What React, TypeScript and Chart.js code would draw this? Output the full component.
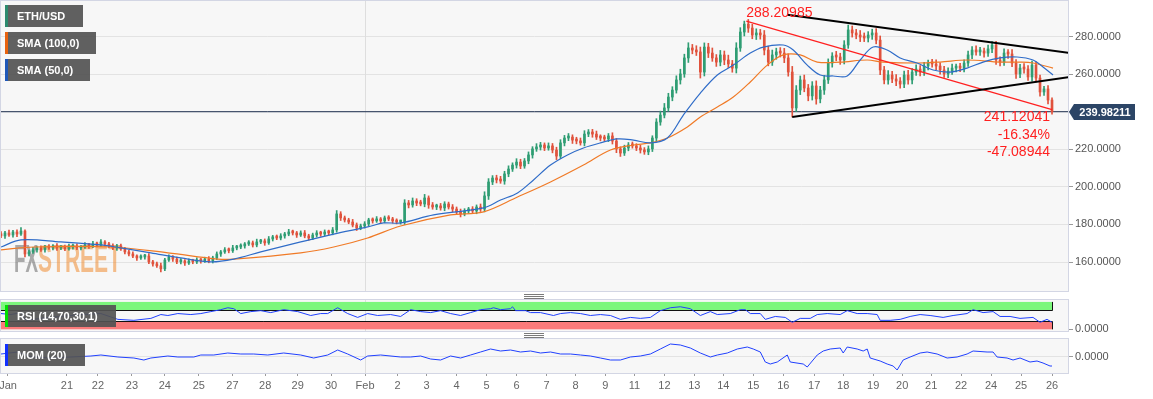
import React, { useEffect, useRef } from 'react';
import { Chart, registerables } from 'chart.js';

Chart.register(...registerables);

const FONT = '"Liberation Sans", Arial, Helvetica, sans-serif';

// ---------- DATA ----------
const firstOpen = 175.0;
const closes = [
  173.9,175.5,174.4,176.0,174.9,176.5,164.3,165.4,166.5,167.5,
  166.5,168.0,167.5,168.6,167.5,168.0,167.0,168.0,168.6,167.5,
  168.0,169.1,168.6,169.6,169.1,170.7,169.6,168.6,167.5,168.6,
  167.0,165.4,164.3,163.2,162.2,162.7,163.2,160.1,159.0,158.0,
  156.4,161.1,162.7,161.6,160.1,160.6,159.5,160.6,160.1,161.1,
  160.6,161.6,160.6,162.2,164.3,165.4,166.5,166.0,167.5,168.0,
  168.6,169.6,170.2,169.1,170.7,171.2,170.2,172.3,173.4,172.8,
  173.9,174.9,176.0,175.5,174.4,175.5,173.9,172.8,174.4,175.5,
  174.9,176.0,175.5,177.1,185.6,183.5,182.4,181.3,179.7,178.1,
  179.2,180.3,182.4,181.9,182.9,181.9,183.5,182.9,181.9,181.3,
  181.3,191.4,190.4,192.5,191.4,190.9,194.1,190.4,189.3,189.8,
  188.8,190.9,189.3,188.2,186.7,185.6,187.2,188.2,187.2,189.3,
  188.2,195.2,202.6,204.7,203.7,203.1,206.9,209.5,211.6,213.2,
  211.1,213.8,217.0,220.2,221.2,222.3,220.7,221.8,219.6,216.4,
  223.4,226.0,226.5,224.9,224.4,223.4,228.1,229.2,228.1,226.5,
  226.0,225.5,227.1,224.4,220.2,218.0,220.7,222.3,221.8,220.7,
  219.6,218.6,220.2,226.0,234.5,238.2,242.0,247.8,251.5,256.9,
  260.1,268.6,273.9,272.8,271.8,261.1,274.4,271.2,268.6,266.4,
  270.2,267.5,265.4,263.2,273.9,282.4,286.6,284.5,280.8,281.9,
  280.8,272.8,266.4,270.2,271.8,271.2,268.6,261.1,242.0,251.5,
  256.9,252.6,248.4,253.7,246.8,251.5,256.9,265.9,269.6,269.1,
  267.5,275.5,283.5,281.9,280.8,279.7,279.2,280.8,281.9,278.1,
  262.2,256.9,259.5,257.4,256.3,254.7,259.5,256.9,261.1,262.7,
  261.1,264.3,265.9,265.4,264.3,262.2,260.1,261.6,263.2,263.8,
  263.2,265.9,270.2,272.8,271.8,272.3,271.2,273.4,275.5,267.5,
  266.4,271.2,270.7,265.9,260.1,263.2,262.7,258.5,264.8,257.9,
  250.5,252.1,246.2,239.98211,
];

// upper / lower shadow lengths of each candle (price units)
const wickUp = [
  1.2,0.8,1.5,0.9,1.1,1.8,0.7,1.0,1.4,0.8,
  1.1,0.9,1.3,0.7,1.2,0.8,1.0,1.6,0.9,1.1,
  0.8,1.2,0.9,1.4,1.0,1.3,0.7,0.9,1.1,0.8,
  1.0,0.9,0.8,1.2,0.7,1.1,0.9,1.3,0.8,1.0,
  1.5,0.9,1.2,0.8,1.0,1.3,0.7,1.1,0.9,1.2,
  0.8,1.0,1.3,0.9,1.1,0.8,1.2,1.0,1.4,0.9,
  1.1,0.8,1.2,1.0,1.5,0.9,1.1,1.3,0.8,1.0,
  1.2,0.9,1.4,1.0,0.8,1.1,1.3,0.9,1.0,1.2,
  0.9,1.1,1.0,1.3,1.8,1.2,1.0,0.9,1.4,1.1,
  1.0,1.2,0.9,1.1,1.3,0.8,1.0,1.2,0.9,1.1,
  1.0,1.8,1.4,1.6,1.2,1.5,1.9,1.1,1.3,1.0,
  1.4,1.2,1.0,1.3,1.1,1.5,1.2,0.9,1.3,1.1,
  1.6,2.2,1.8,1.3,1.5,1.9,1.4,1.7,1.2,1.8,
  1.5,1.3,1.6,1.2,1.8,1.4,1.1,1.6,1.3,1.5,
  1.7,1.4,1.9,1.2,1.5,1.6,1.8,1.3,1.4,1.6,
  1.2,1.5,1.3,1.7,1.4,1.1,1.5,1.3,1.6,1.2,
  1.4,1.3,1.6,1.2,1.8,2.1,2.4,2.0,1.8,2.2,
  2.5,2.0,2.8,1.9,2.3,2.6,2.2,2.0,2.7,1.8,
  2.4,2.1,2.6,1.9,2.8,2.3,1.6,2.5,2.0,2.2,
  1.9,2.4,2.1,2.6,2.0,2.3,2.5,2.2,3.0,2.4,
  2.1,2.6,1.9,2.3,2.7,2.0,2.4,2.2,1.8,2.5,
  2.0,2.3,2.6,2.1,1.9,2.4,2.2,1.8,2.0,2.3,
  2.2,1.9,2.4,2.0,2.3,1.8,2.1,2.5,1.9,2.2,
  1.8,2.0,1.6,1.9,2.2,1.7,2.0,1.8,2.1,1.6,
  1.9,1.7,2.0,1.8,2.2,1.9,1.6,2.1,1.8,2.0,
  1.7,2.2,1.9,2.3,1.8,2.0,2.4,1.9,2.1,1.8,
  1.6,1.4,1.8,1.2,
];
const wickDown = [
  0.9,1.3,0.8,1.1,1.4,0.7,1.6,1.0,0.8,1.2,
  0.9,1.2,0.8,1.1,1.3,0.9,1.0,0.7,1.2,0.9,
  1.1,0.8,1.3,0.9,1.0,0.8,1.2,1.0,0.9,1.3,
  0.8,1.1,1.0,0.9,1.3,0.8,1.1,1.0,1.2,0.9,
  1.6,1.0,0.8,1.2,0.9,1.1,1.3,0.8,1.0,0.9,
  1.2,0.8,1.0,1.1,0.9,1.3,0.8,1.1,0.9,1.0,
  0.9,1.2,0.8,1.1,1.0,0.9,1.3,0.8,1.1,0.9,
  1.0,1.2,0.9,1.1,1.3,0.8,1.0,1.2,0.9,1.1,
  1.2,0.9,1.1,1.0,1.2,1.4,1.1,0.9,1.0,1.3,
  0.9,1.1,1.0,1.2,0.8,1.1,1.0,0.9,1.2,1.0,
  1.1,1.3,1.6,1.2,1.4,1.0,1.5,1.8,1.2,1.4,
  1.2,1.5,1.1,1.4,1.3,1.6,1.0,1.3,1.2,1.5,
  1.3,1.5,1.9,1.4,1.6,1.2,1.7,1.5,1.3,1.6,
  1.4,1.2,1.5,1.7,1.3,1.6,1.4,1.2,1.5,1.9,
  1.3,1.6,1.4,1.8,1.5,1.2,1.6,1.4,1.7,1.3,
  1.5,1.2,1.4,1.6,2.0,1.8,1.3,1.5,1.2,1.4,
  1.6,1.3,1.5,1.4,1.9,1.7,1.5,1.8,2.0,1.6,
  2.2,1.8,2.4,2.0,1.9,3.2,2.1,2.4,1.8,2.3,
  2.0,2.5,1.9,2.2,2.6,1.8,2.1,2.3,2.0,2.4,
  2.2,2.6,2.0,1.8,2.3,2.1,2.5,2.2,4.8,2.0,
  2.4,2.0,2.6,2.2,2.8,2.1,2.3,1.9,2.2,2.0,
  2.3,2.1,1.8,2.2,2.0,2.4,1.9,2.1,2.3,2.0,
  2.5,2.1,2.3,2.0,2.4,2.2,1.9,2.3,2.1,1.8,
  2.0,1.8,2.1,1.7,1.9,2.2,1.8,2.0,1.7,2.1,
  1.9,2.1,1.8,2.0,1.7,1.9,2.2,1.8,2.0,2.3,
  2.1,1.8,2.3,1.9,2.4,2.0,2.2,1.9,2.3,2.1,
  2.2,1.9,2.0,1.3,
];

const sma50Idx = [0,5,15,25,30,37.5,45,52.5,58.25,65,75,83.25,91.75,95.75,100,108.25,120.75,125,129.25,133.25,137.5,141.75,145.75,150,154.25,158.25,162.5,166.75,170.75,175,179.25,183.25,187.5,190.75,195.75,198.25,201.75,205,208.25,211.75,215,218.25,221.75,225,229.25,233.25,237.5,241.75,245.75,250,254.25,258.25,260.75,263.25];
const sma50Vals = [168.0,171.8,170.7,169.1,167.5,164.9,162.2,160.1,161.6,165.4,170.7,174.9,178.7,180.8,180.8,185.1,188.8,193.0,196.8,203.7,211.6,217.0,220.7,223.4,225.5,224.9,223.4,226.0,238.2,249.9,259.5,264.8,271.2,274.4,275.5,272.8,264.8,259.5,259.0,259.0,267.5,274.4,272.8,268.6,265.9,262.2,261.1,263.2,266.4,268.6,269.1,267.5,263.8,259.5];

const sma100Idx = [0,8.25,27.5,41.75,54.25,58.25,75,83.25,91.75,100,112.5,120.75,129.25,137.5,145.75,152.5,158.25,162.5,166.75,171.75,175,179.25,183.25,187.5,191.75,195.75,200,204.25,210,216.75,220.75,229.25,235,241.75,250,255,258.25,263.25];
const sma100Vals = [166.5,168.0,168.0,164.9,161.6,161.6,164.9,168.0,172.8,179.2,185.1,186.7,194.6,202.6,211.6,219.6,222.3,223.4,226.0,231.9,237.2,242.5,247.8,255.8,264.8,270.2,270.2,266.4,266.4,267.5,266.4,265.9,266.4,267.5,266.4,266.4,265.9,263.2];

const upperTrendIdx = [196.75, 268];
const upperTrendVals = [291.6, 271.1];
const lowerTrendIdx = [198, 268];
const lowerTrendVals = [237.2, 258.6];
const measureIdx = [186.5, 263];
const measureVals = [288.20985, 241.12041];

const rsiIdx = [0,2.5,5,6.25,10,15,20,25,29.25,33.25,37.5,40,41.75,44.25,47.5,50,52.5,55,56.75,58.25,60,62.5,65,67.5,70.75,74.25,77.5,80,81.75,84.25,86.75,89.25,91.75,94.25,97.5,100,102.5,105,107.5,110,112.5,115,117.5,120,122.5,123.25,125,127.5,128,128.75,131.25,132.5,135,138.25,140,142.5,145,147.5,150,152.5,155,157.5,160,162.5,165,167.5,170,172.5,175,177.5,179.25,182.5,185,186.25,187.5,190,191.25,193.75,196.25,198,200,202.5,204.25,206.75,210,211.75,214.25,216.75,219.25,220,222.5,225,227.5,230,232.5,235.75,238.25,241.75,243.25,245.75,248.25,250,252.5,255,258.25,260,261.75,263];
const rsiVals = [57.6,54,61,33,40,47,54,57.6,36.4,32.9,40,54,50.5,57.6,54,57.6,64.7,71.7,78.8,75.3,57.6,64.7,68.2,61.1,71.7,64.7,50.5,57.6,57.6,78.8,57.6,43.5,57.6,50.5,54,47,71.7,64.7,61.1,68.2,57.6,50.5,61.1,71.7,75.3,78.8,71.7,75.3,82.3,68.2,68.2,61.1,61.1,50.5,57.6,61.1,57.6,50.5,54,50.5,36.4,43.5,40,43.5,68.2,78.8,82.3,75.3,50.5,64.7,54,57.6,71.7,71.7,57.6,57.6,36.4,47,43.5,25.8,40,40,54,57.6,54,68.2,57.6,57.6,54,32.9,32.9,36.4,47,54,50.5,43.5,50.5,57.6,71.7,61.1,64.7,47,47,40,43.5,25.8,36.4,25.8];

const momIdx = [0,4.25,7.5,12.5,17.5,22.5,25,29.25,33.25,35.75,37.5,41.75,44.25,48.25,50,53.25,56.75,60,63.25,66.75,70.75,75,78.25,81.75,84.25,86.75,90,91.75,95,100,102.5,105,107.5,110,112.5,115,117.5,120,122.5,125,127.5,130,132.5,135,137.5,140,142.5,145,147.5,150,152.5,155,157.5,160,162.5,165,167.5,170,172.5,175,177.5,179.25,181.75,184.25,186.75,188.25,190,191.25,192.5,194.25,196.75,197.5,200.75,201.75,204.25,205.75,207.5,210,210.75,211.75,214.25,215.75,216.75,217.5,220,221.75,223.25,224.25,225.75,227.5,230,231.75,234.25,236.75,239.25,241.75,243.25,246.75,248.25,249.25,251.75,253.25,255,257.5,259.25,260.75,262.5,263];
const momVals = [2.7,4.7,-0.3,-1.3,-0.3,0.7,1.7,-0.3,-1.3,-3.3,-1.3,0.7,-0.3,-0.3,1.7,1.7,3.7,2.7,2.7,1.7,3.7,1.7,-1.3,1.7,6.7,2.7,-3.3,0.7,1.7,-0.3,-0.3,0.7,-2.3,-3.3,0.7,-1.3,1.7,4.7,7.7,5.7,6.7,4.7,5.7,3.7,4.7,2.7,2.7,1.7,0.7,-1.3,-3.3,-3.3,-0.3,0.7,2.7,7.7,12.7,11.7,8.7,3.7,-0.3,1.7,3.7,7.7,9.7,7.7,4.7,-5.3,-7.3,-5.3,1.7,-5.3,-7.3,-10.3,1.7,5.7,7.7,8.7,3.7,9.7,7.7,5.7,7.7,-1.3,-4.3,-7.3,-9.3,-13.3,-3.3,-0.3,3.7,4.7,2.7,-1.3,-0.3,2.7,5.7,4.7,4.7,-0.3,-1.3,-3.3,-1.3,-5.3,-4.3,-6.3,-9.3,-9.3];

const priceTicks = [160, 180, 200, 220, 240, 260, 280];
const timeTickPos = [1.75,16.5,24.25,32.75,41,49.5,57.9,66.1,74.25,82.6,91.1,99.25,106.5,114,121.5,129,136.5,143.75,151.25,158.5,166,173.5,180.75,188.25,195.75,203.5,210.75,218.25,225.5,232.75,240.25,247.75,255.25,263];
const timeTickLabels = ['Jan','21','22','23','24','25','27','28','29','30','Feb','2','3','4','5','6','7','8','9','11','12','13','14','15','16','17','18','19','20','21','22','24','25','26'];
const monthStartPos = 91.1;

// ---------- HELPERS ----------
const X_MAX = 267;
const LAST = closes.length - 1;
const lastClose = closes[LAST];
const opens = closes.map((_, i) => (i === 0 ? firstOpen : closes[i - 1]));
const pts = (xs: number[], ys: number[]) => xs.map((x, i) => ({ x, y: ys[i] }));

const BG = '#f7f7f7';
const BORDER = '#d3d6e4';
const UP = '#2f9d73';
const DOWN = '#e0523c';

function drawTag(ctx: CanvasRenderingContext2D, x: number, y: number, w: number, h: number, strip: string, text: string) {
  ctx.save();
  ctx.fillStyle = 'rgba(82,82,82,0.92)';
  ctx.fillRect(x, y, w, h);
  ctx.fillStyle = strip;
  ctx.fillRect(x, y, 3, h);
  ctx.fillStyle = '#ffffff';
  ctx.font = `bold 11px ${FONT}`;
  ctx.textBaseline = 'middle';
  ctx.textAlign = 'left';
  ctx.fillText(text, x + 12, y + h / 2 + 0.5);
  ctx.restore();
}

function fillArea(chart: any) {
  const { ctx, chartArea: a } = chart;
  ctx.save();
  ctx.fillStyle = BG;
  ctx.fillRect(a.left, a.top, a.right - a.left, a.bottom - a.top);
  ctx.restore();
}
function strokeArea(chart: any) {
  const { ctx, chartArea: a } = chart;
  ctx.save();
  ctx.strokeStyle = BORDER;
  ctx.lineWidth = 1;
  ctx.strokeRect(Math.round(a.left) - 0.5, Math.round(a.top) - 0.5, Math.round(a.right - a.left) + 1, Math.round(a.bottom - a.top) + 1);
  ctx.restore();
}
function monthLine(chart: any) {
  const { ctx, chartArea: a } = chart;
  const x = Math.round(chart.scales.x.getPixelForValue(monthStartPos)) + 0.5;
  ctx.save();
  ctx.strokeStyle = '#dedede';
  ctx.lineWidth = 1;
  ctx.beginPath();
  ctx.moveTo(x, a.top);
  ctx.lineTo(x, a.bottom);
  ctx.stroke();
  ctx.restore();
}

const baseOpts = {
  responsive: false,
  animation: false as const,
  events: [] as any[],
  plugins: { legend: { display: false }, tooltip: { enabled: false } },
};

const rightAxis = (min: number, max: number, ticks: number[], gridOnArea: boolean) => ({
  type: 'linear' as const,
  position: 'right' as const,
  min,
  max,
  afterBuildTicks: (s: any) => { s.ticks = ticks.map((v) => ({ value: v })); },
  afterFit: (s: any) => { s.width = 85; s.paddingTop = 0; s.paddingBottom = 0; },
  ticks: { callback: (v: any) => Number(v).toFixed(4), color: '#555', font: { family: FONT, size: 11 }, padding: 2 },
  grid: { color: '#e3e3e3', tickColor: '#9a9a9a', tickLength: 5, drawOnChartArea: gridOnArea },
  border: { display: false },
});

const dirColor = (i: number) => (closes[i] < opens[i] ? DOWN : UP);

// ---------- CHARTS ----------
function mainConfig(): any {
  const bodies = closes.map((c, i) => ({ x: i, y: [opens[i], c] }));
  const shadows = closes.map((c, i) => ({
    x: i,
    y: [Math.min(opens[i], c) - wickDown[i], Math.max(opens[i], c) + wickUp[i]],
  }));
  return {
    type: 'bar',
    data: {
      datasets: [
        { type: 'line', data: pts(upperTrendIdx, upperTrendVals), borderColor: '#000', borderWidth: 2, pointRadius: 0, order: 0 },
        { type: 'line', data: pts(lowerTrendIdx, lowerTrendVals), borderColor: '#000', borderWidth: 2, pointRadius: 0, order: 0 },
        { type: 'line', data: pts(measureIdx, measureVals), borderColor: '#ff2020', borderWidth: 1.2, pointRadius: 0, order: 0 },
        { type: 'line', data: pts(sma50Idx, sma50Vals), borderColor: '#2f6cc8', borderWidth: 1.2, pointRadius: 0, tension: 0.35, order: 1 },
        { type: 'line', data: pts(sma100Idx, sma100Vals), borderColor: '#f07a26', borderWidth: 1.2, pointRadius: 0, tension: 0.35, order: 1 },
        {
          type: 'bar',
          data: bodies,
          barThickness: 2,
          minBarLength: 2,
          borderWidth: 0,
          grouped: false,
          backgroundColor: (c: any) => dirColor(c.dataIndex ?? 0),
          order: 2,
        },
        {
          type: 'bar',
          data: shadows,
          barThickness: 1,
          borderWidth: 0,
          grouped: false,
          backgroundColor: (c: any) => dirColor(c.dataIndex ?? 0),
          order: 3,
        },
        { type: 'line', data: [{ x: 0, y: lastClose }, { x: X_MAX, y: lastClose }], borderColor: '#1c2d4e', borderWidth: 1, pointRadius: 0, order: 4 },
      ],
    },
    options: {
      ...baseOpts,
      layout: { padding: { left: 1, top: 1, bottom: 1, right: 0 } },
      scales: {
        x: { type: 'linear', min: 0, max: X_MAX, display: false, offset: false },
        y: rightAxis(144.6, 298.9, priceTicks, true),
      },
    },
    plugins: [{
      id: 'mainDeco',
      beforeDraw: (chart: any) => fillArea(chart),
      beforeDatasetsDraw: (chart: any) => {
        monthLine(chart);
        const ctx = chart.ctx;
        ctx.save();
        ctx.font = `bold 38px ${FONT}`;
        ctx.textBaseline = 'alphabetic';
        ctx.fillStyle = 'rgba(105,105,105,0.55)';
        ctx.fillText('FX', 14, 272, 24);
        ctx.fillStyle = 'rgba(240,140,50,0.55)';
        ctx.fillText('STREET', 38, 272, 83);
        ctx.restore();
      },
      afterDatasetsDraw: (chart: any) => {
        const ctx = chart.ctx;
        const xs = chart.scales.x;
        const ys = chart.scales.y;
        const diff = measureVals[1] - measureVals[0];
        const pct = (diff / measureVals[0]) * 100;
        ctx.save();
        ctx.fillStyle = '#ff2020';
        ctx.font = `14px ${FONT}`;
        ctx.textBaseline = 'middle';
        ctx.textAlign = 'left';
        ctx.fillText(measureVals[0].toFixed(5), xs.getPixelForValue(measureIdx[0]), ys.getPixelForValue(measureVals[0]) - 8);
        ctx.textAlign = 'right';
        const rx = xs.getPixelForValue(measureIdx[1]) - 2;
        const ry = ys.getPixelForValue(measureVals[1]);
        ctx.fillText(measureVals[1].toFixed(5), rx, ry + 8);
        ctx.fillText(pct.toFixed(2) + '%', rx, ry + 26);
        ctx.fillText(diff.toFixed(5), rx, ry + 43);
        ctx.restore();
      },
      afterDraw: (chart: any) => {
        strokeArea(chart);
        const ctx = chart.ctx;
        drawTag(ctx, 5, 5, 78, 22, '#2d8a6e', 'ETH/USD');
        drawTag(ctx, 5, 32, 91, 22, '#e8620f', 'SMA (100,0)');
        drawTag(ctx, 5, 59, 85, 22, '#1f58b8', 'SMA (50,0)');
        // last price label
        const y = Math.round(chart.scales.y.getPixelForValue(lastClose));
        const x0 = chart.chartArea.right + 1;
        ctx.save();
        ctx.fillStyle = '#2c4566';
        ctx.beginPath();
        ctx.moveTo(x0, y);
        ctx.lineTo(x0 + 5, y - 8);
        ctx.lineTo(x0 + 66, y - 8);
        ctx.lineTo(x0 + 66, y + 8);
        ctx.lineTo(x0 + 5, y + 8);
        ctx.closePath();
        ctx.fill();
        ctx.fillStyle = '#fff';
        ctx.font = `bold 11px ${FONT}`;
        ctx.textAlign = 'center';
        ctx.textBaseline = 'middle';
        ctx.fillText(lastClose.toFixed(5), x0 + 36, y + 0.5);
        ctx.restore();
      },
    }],
  };
}

function rsiConfig(): any {
  return {
    type: 'line',
    data: {
      datasets: [
        { data: pts(rsiIdx, rsiVals), borderColor: '#2040ff', borderWidth: 1, pointRadius: 0 },
      ],
    },
    options: {
      ...baseOpts,
      layout: { padding: { left: 1, top: 1, bottom: 1, right: 0 } },
      scales: {
        x: { type: 'linear', min: 0, max: X_MAX, display: false, offset: false },
        y: rightAxis(-6, 107, [0], false),
      },
    },
    plugins: [{
      id: 'rsiDeco',
      beforeDraw: (chart: any) => fillArea(chart),
      beforeDatasetsDraw: (chart: any) => {
        const { ctx, chartArea: a } = chart;
        const xs = chart.scales.x;
        const ys = chart.scales.y;
        const x0 = a.left;
        const x1 = Math.round(xs.getPixelForValue(LAST)) + 0.5;
        const y100 = ys.getPixelForValue(100);
        const y70 = Math.round(ys.getPixelForValue(70)) + 0.5;
        const y30 = Math.round(ys.getPixelForValue(30)) + 0.5;
        const y0 = ys.getPixelForValue(0);
        monthLine(chart);
        ctx.save();
        ctx.fillStyle = '#7cf77c';
        ctx.fillRect(x0, y100, x1 - x0, y70 - y100);
        ctx.fillStyle = '#fb7a7a';
        ctx.fillRect(x0, y30, x1 - x0, y0 - y30);
        ctx.strokeStyle = '#111';
        ctx.lineWidth = 1;
        ctx.beginPath();
        ctx.moveTo(x0, y70); ctx.lineTo(x1, y70);
        ctx.moveTo(x0, y30); ctx.lineTo(x1, y30);
        ctx.moveTo(x1, y100); ctx.lineTo(x1, y70);
        ctx.moveTo(x1, y30); ctx.lineTo(x1, y0);
        ctx.stroke();
        ctx.restore();
      },
      afterDraw: (chart: any) => {
        strokeArea(chart);
        drawTag(chart.ctx, 5, 6, 111, 22, '#00e000', 'RSI (14,70,30,1)');
      },
    }],
  };
}

function momConfig(): any {
  return {
    type: 'line',
    data: {
      datasets: [
        { data: pts(momIdx, momVals), borderColor: '#2040ff', borderWidth: 1, pointRadius: 0 },
      ],
    },
    options: {
      ...baseOpts,
      layout: { padding: { left: 1, top: 1, bottom: 0, right: 0 } },
      scales: {
        x: {
          type: 'linear', min: 0, max: X_MAX, offset: false,
          afterBuildTicks: (s: any) => { s.ticks = timeTickPos.map((v) => ({ value: v })); },
          afterFit: (s: any) => { s.height = 26; s.paddingLeft = 0; s.paddingRight = 0; },
          ticks: {
            autoSkip: false, maxRotation: 0, minRotation: 0, color: '#666', padding: 3,
            font: { family: FONT, size: 11 },
            callback: (_v: any, i: number) => timeTickLabels[i],
          },
          grid: { drawOnChartArea: false, tickLength: 3, tickColor: '#9a9a9a' },
          border: { display: false },
        },
        y: rightAxis(-16.3, 17.7, [0], true),
      },
    },
    plugins: [{
      id: 'momDeco',
      beforeDraw: (chart: any) => fillArea(chart),
      beforeDatasetsDraw: (chart: any) => monthLine(chart),
      afterDraw: (chart: any) => {
        strokeArea(chart);
        drawTag(chart.ctx, 5, 6, 80, 22, '#1030ff', 'MOM (20)');
      },
    }],
  };
}

function ChartCanvas({ top, height, make }: { top: number; height: number; make: () => any }) {
  const ref = useRef<HTMLCanvasElement | null>(null);
  useEffect(() => {
    if (!ref.current) return;
    const chart = new Chart(ref.current, make());
    return () => chart.destroy();
  }, []);
  return (
    <canvas
      ref={ref}
      width={1153}
      height={height}
      style={{ position: 'absolute', left: 0, top, width: 1153, height, display: 'block' }}
    />
  );
}

function Handle({ top }: { top: number }) {
  return (
    <div style={{ position: 'absolute', left: 524, top, width: 20, height: 5 }}>
      {[0, 2, 4].map((d) => (
        <div key={d} style={{ position: 'absolute', left: 0, top: d, width: 20, height: 1, background: '#7a7a7a' }} />
      ))}
    </div>
  );
}

export default function App() {
  return (
    <div style={{ position: 'absolute', left: 0, top: 0, width: 1153, height: 399, background: '#fff', overflow: 'hidden' }}>
      <ChartCanvas top={0} height={292} make={mainConfig} />
      <Handle top={294} />
      <ChartCanvas top={299} height={33} make={rsiConfig} />
      <Handle top={333} />
      <ChartCanvas top={338} height={61} make={momConfig} />
    </div>
  );
}
